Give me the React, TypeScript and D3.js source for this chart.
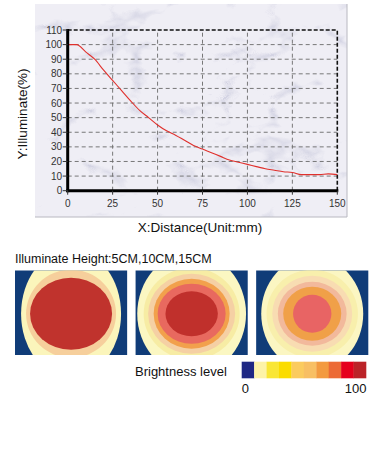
import React from "react";
import * as d3 from "d3";

const distance = [0, 5, 10, 15, 20, 25, 30, 35, 40, 45, 50, 55, 60, 65, 70, 75, 80, 85, 90, 95, 100, 105, 110, 115, 120, 125, 130, 135, 140, 145, 150];
const illuminate = [100, 100, 95, 90, 82.5, 75.5, 68.5, 61.5, 55, 50, 45, 41, 38, 34.5, 31, 28.5, 26, 23.5, 21, 19.5, 18, 16.5, 15, 14, 13, 12.5, 11, 11, 11, 11.5, 11];
const xTicks = [0, 25, 50, 75, 100, 125, 150];
const yTicks = [0, 10, 20, 30, 40, 50, 60, 70, 80, 90, 100, 110];

const heights = ["5CM", "10CM", "15CM"];
// rings per height, from outside in
const ringsRx = [
  [50, 45, 41],
  [54.4, 48, 43.5, 38, 34, 26.2],
  [51, 45.7, 40, 34.4, 29, 19.2],
];
const ringsRy = [
  [64, 44, 36],
  [61, 46, 40, 35, 30, 22.5],
  [57.3, 44, 38, 32, 27, 19],
];
const ringsColor = [
  ["#fbf5bb", "#f6cf9c", "#c0332d"],
  ["#fbf7c2", "#f7eca4", "#f5d0a4", "#f2a04c", "#e8695f", "#c0302c"],
  ["#fbf6c2", "#f8efac", "#f8dcb2", "#f2b99c", "#f0a048", "#e86464"],
];
const legendColors = ["#1f2884", "#fdf3a8", "#f9e636", "#fbdc00", "#fbcb5e", "#f8bf63", "#f39a3f", "#ec6a35", "#e5001c", "#bb2328"];
const legendLabels = ["0", "100"];

const FONT = "Liberation Sans, Arial, sans-serif";

export default function App() {
  const x = d3.scaleLinear().domain([0, 150]).range([67.7, 337.3]);
  const y = d3.scaleLinear().domain([0, 110]).range([190.7, 30]);
  const line = d3
    .line<number>()
    .x((_, i) => x(distance[i]))
    .y((d) => y(d))
    .curve(d3.curveMonotoneX);

  const panelX = d3.scaleBand<string>().domain(heights).range([15, 368.3]).paddingInner(0.07);
  const panelTop = 270.5;
  const panelH = 84.5;
  const legX = d3.scaleBand<number>().domain(d3.range(legendColors.length)).range([241.7, 366]);

  return (
    <div style={{ position: "absolute", left: 0, top: 0 }}>
      <svg width={385} height={457} style={{ display: "block", background: "#fff" }}>
        <defs>
          <filter id="marble" x="0" y="0" width="100%" height="100%">
            <feTurbulence type="turbulence" baseFrequency="0.011 0.018" numOctaves={4} seed={7} result="t" />
            <feColorMatrix
              in="t"
              type="matrix"
              values="0 0 0 0 0.45  0 0 0 0 0.46  0 0 0 0 0.62  -4 0 0 0 0.75"
            />
          </filter>
          {heights.map((h, i) => (
            <clipPath id={`clip${i}`} key={h}>
              <rect x={panelX(h)} y={panelTop} width={panelX.bandwidth()} height={panelH} />
            </clipPath>
          ))}
        </defs>

        {/* marble background panel */}
        <rect x={35} y={4} width={312} height={213} fill="#efeef5" />
        <rect x={35} y={4} width={312} height={213} filter="url(#marble)" opacity={0.6} />
        <line x1={347} y1={4} x2={347} y2={217} stroke="#b8b8c0" strokeWidth={1} />
        <line x1={35} y1={217} x2={347} y2={217} stroke="#b8b8c0" strokeWidth={1} />

        {/* gridlines */}
        {yTicks.slice(1, -1).map((t) => (
          <line key={"gy" + t} x1={x(0)} x2={x(150)} y1={y(t)} y2={y(t)} stroke="#6a6a6a" strokeWidth={0.9} strokeDasharray="4,3" />
        ))}
        {xTicks.slice(1, -1).map((t) => (
          <line key={"gx" + t} x1={x(t)} x2={x(t)} y1={y(0)} y2={y(110)} stroke="#6a6a6a" strokeWidth={0.9} strokeDasharray="4,3" />
        ))}
        {/* top & right dashed borders */}
        <line x1={x(0)} x2={x(150)} y1={y(110)} y2={y(110)} stroke="#111" strokeWidth={1.6} strokeDasharray="4,2" />
        <line x1={x(150)} x2={x(150)} y1={y(0)} y2={y(110)} stroke="#111" strokeWidth={1.6} strokeDasharray="4,2" />

        {/* curve */}
        <path d={line(illuminate) || ""} fill="none" stroke="#e0302c" strokeWidth={1.1} />

        {/* axes */}
        <line x1={x(0)} x2={x(0)} y1={y(0) + 1.5} y2={y(110) - 1} stroke="#000" strokeWidth={3} />
        <line x1={x(0) - 1.5} x2={x(150) + 1} y1={y(0)} y2={y(0)} stroke="#000" strokeWidth={3} />
        {yTicks.map((t) => (
          <g key={"yt" + t}>
            <line x1={x(0) - 5} x2={x(0)} y1={y(t)} y2={y(t)} stroke="#333" strokeWidth={1} />
            <text x={x(0) - 5.5} y={y(t)} dy="0.35em" textAnchor="end" fontSize={10} fontFamily={FONT} fill="#333">
              {t}
            </text>
          </g>
        ))}
        {xTicks.map((t) => (
          <g key={"xt" + t}>
            <line x1={x(t)} x2={x(t)} y1={y(0)} y2={y(0) + 4} stroke="#333" strokeWidth={1} />
            <text x={x(t)} y={y(0) + 16} textAnchor="middle" fontSize={10} fontFamily={FONT} fill="#333">
              {t}
            </text>
          </g>
        ))}
        <text x={200} y={232} textAnchor="middle" fontSize={13.5} fontFamily={FONT} fill="#111">
          X:Distance(Unit:mm)
        </text>
        <text transform="translate(27,114) rotate(-90)" textAnchor="middle" fontSize={13.5} fontFamily={FONT} fill="#111">
          Y:Illuminate(%)
        </text>

        {/* heatmaps */}
        <text x={15} y={263} fontSize={12.5} fontFamily={FONT} fill="#111">
          {"Illuminate Height:" + heights.join(",")}
        </text>
        {heights.map((h, i) => {
          const px = panelX(h) as number;
          const cx = px + panelX.bandwidth() / 2;
          const cy = panelTop + panelH / 2 + 1;
          return (
            <g key={h}>
              <rect x={px} y={panelTop} width={panelX.bandwidth()} height={panelH} fill="#103c78" />
              <g clipPath={`url(#clip${i})`}>
                {ringsRx[i].map((rx, j) => (
                  <ellipse key={j} cx={cx} cy={cy} rx={rx} ry={ringsRy[i][j]} fill={ringsColor[i][j]} />
                ))}
              </g>
            </g>
          );
        })}

        {/* legend */}
        <text x={135} y={376} fontSize={13} fontFamily={FONT} fill="#111">
          Brightness level
        </text>
        {legendColors.map((c, i) => (
          <rect key={c} x={legX(i)} y={361.7} width={legX.bandwidth() + 0.3} height={16.6} fill={c} />
        ))}
        <text x={241.7} y={393} fontSize={13} fontFamily={FONT} fill="#111">
          {legendLabels[0]}
        </text>
        <text x={366.5} y={393} textAnchor="end" fontSize={13} fontFamily={FONT} fill="#111">
          {legendLabels[1]}
        </text>
      </svg>
    </div>
  );
}
